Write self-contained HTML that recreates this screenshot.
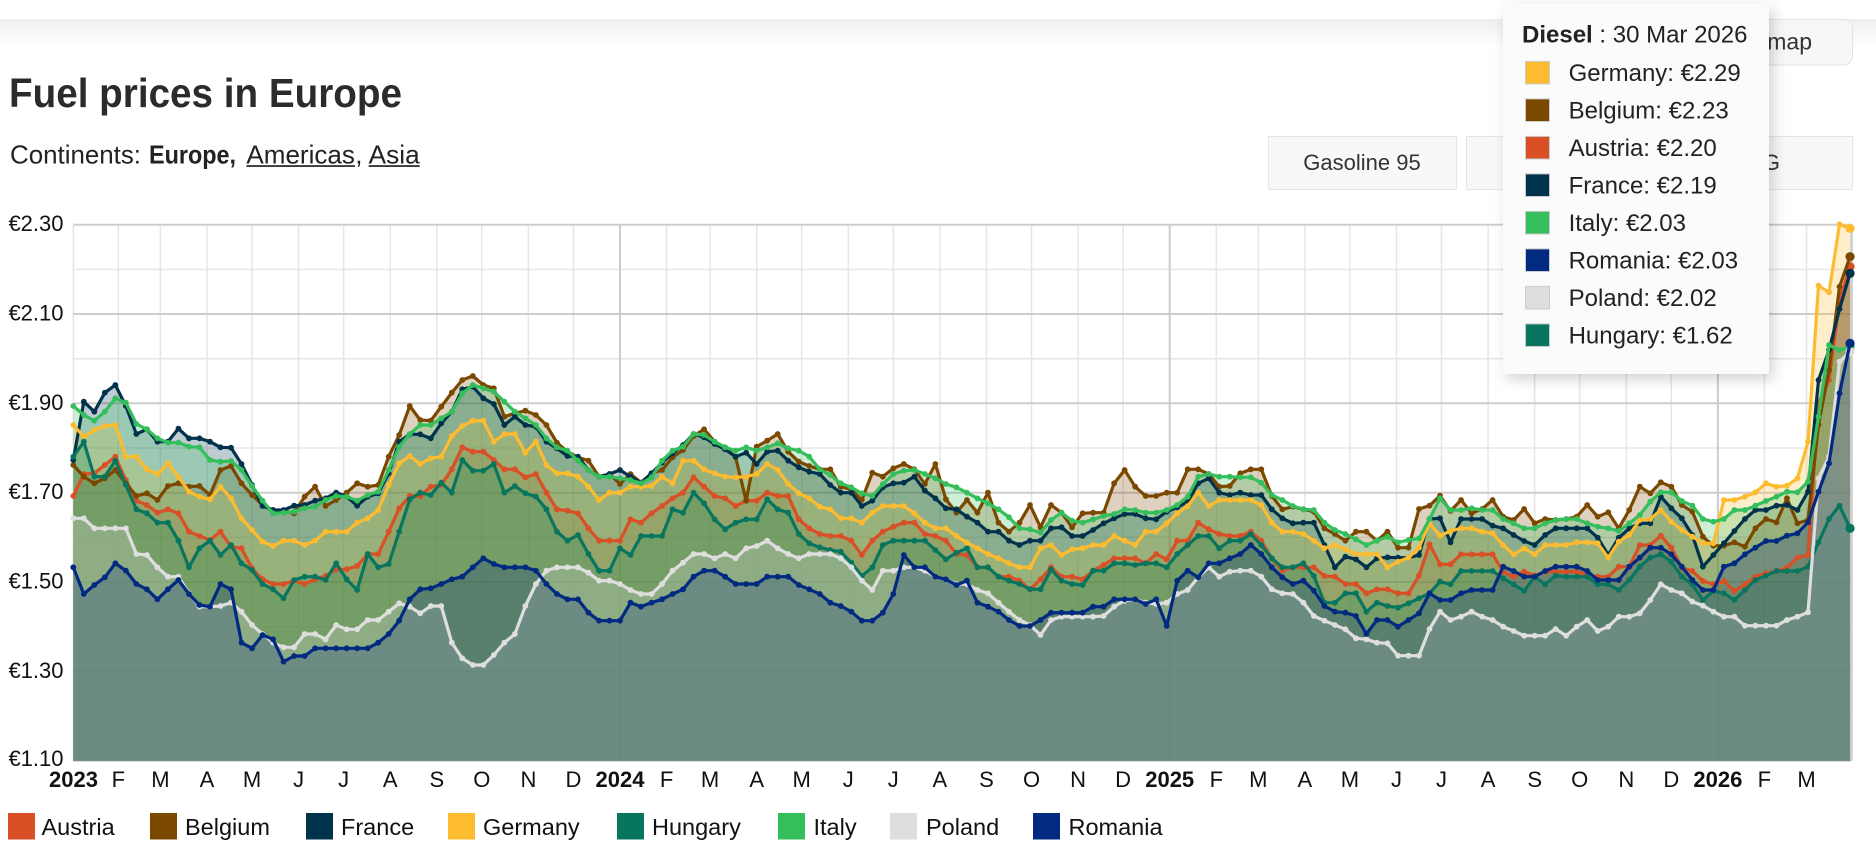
<!DOCTYPE html>
<html>
<head>
<meta charset="utf-8">
<style>
html,body{margin:0;padding:0;background:#fff;}
body{width:1876px;height:842px;overflow:hidden;}
svg{display:block;font-family:"Liberation Sans",Arial,sans-serif;}
</style>
</head>
<body>
<svg width="1876" height="842" viewBox="0 0 1876 842">
<defs>
<linearGradient id="band" x1="0" y1="0" x2="0" y2="1">
<stop offset="0" stop-color="#efefef"/>
<stop offset="1" stop-color="#ffffff"/>
</linearGradient>
<filter id="sh" x="-20%" y="-10%" width="150%" height="130%">
<feDropShadow dx="4" dy="5" stdDeviation="7" flood-color="#000" flood-opacity="0.18"/>
</filter>
</defs>

<rect x="0" y="19" width="1876" height="28" fill="url(#band)"/>

<!-- title -->
<text x="9" y="107" font-size="41" font-weight="bold" fill="#2b2b2b" textLength="393" lengthAdjust="spacingAndGlyphs">Fuel prices in Europe</text>
<text x="10" y="163.5" font-size="26" fill="#222" textLength="131" lengthAdjust="spacingAndGlyphs">Continents:</text>
<text x="149" y="163.5" font-size="26" font-weight="bold" fill="#222" textLength="87" lengthAdjust="spacingAndGlyphs">Europe,</text>
<text x="246.4" y="163.5" font-size="26" fill="#222" textLength="108.5" lengthAdjust="spacingAndGlyphs">Americas</text>
<text x="355.3" y="163.5" font-size="26" fill="#222">,</text>
<text x="368.7" y="163.5" font-size="26" fill="#222" textLength="51" lengthAdjust="spacingAndGlyphs">Asia</text>
<rect x="246.4" y="165.2" width="108.5" height="1.7" fill="#222"/>
<rect x="368.7" y="165.2" width="51" height="1.7" fill="#222"/>

<!-- buttons -->
<rect x="1640.5" y="19.5" width="212" height="45.5" rx="9" fill="#f7f7f7" stroke="#e3e3e3"/>
<text x="1812" y="49.5" font-size="23" fill="#333" text-anchor="end">map</text>
<rect x="1268.5" y="136.5" width="188" height="53" fill="#f8f8f8" stroke="#e5e5e5"/>
<text x="1362" y="170" font-size="22" fill="#333" text-anchor="middle">Gasoline 95</text>
<rect x="1466.5" y="136.5" width="188" height="53" fill="#f8f8f8" stroke="#e5e5e5"/>
<text x="1560" y="170" font-size="22" fill="#333" text-anchor="middle">Diesel</text>
<rect x="1664.5" y="136.5" width="188" height="53" fill="#f8f8f8" stroke="#e5e5e5"/>
<text x="1758" y="170" font-size="22" fill="#333" text-anchor="middle">LPG</text>

<!-- grid -->
<g stroke="#e6e6e6" stroke-width="1.5" fill="none">
<path d="M73.3,269.4H1851M73.3,358.7H1851M73.3,448H1851M73.3,537.4H1851M73.3,626.7H1851M73.3,716H1851"/>
<path d="M73.3,224.7V760.7M118.4,224.7V760.7M160.4,224.7V760.7M207,224.7V760.7M252,224.7V760.7M298.6,224.7V760.7M343.6,224.7V760.7M390.2,224.7V760.7M436.8,224.7V760.7M481.8,224.7V760.7M528.4,224.7V760.7M573.4,224.7V760.7M666.6,224.7V760.7M710.1,224.7V760.7M756.7,224.7V760.7M801.7,224.7V760.7M848.3,224.7V760.7M893.3,224.7V760.7M939.9,224.7V760.7M986.5,224.7V760.7M1031.5,224.7V760.7M1078.1,224.7V760.7M1123.1,224.7V760.7M1216.3,224.7V760.7M1258.3,224.7V760.7M1304.9,224.7V760.7M1349.9,224.7V760.7M1396.5,224.7V760.7M1441.5,224.7V760.7M1488.1,224.7V760.7M1534.7,224.7V760.7M1579.7,224.7V760.7M1626.3,224.7V760.7M1671.3,224.7V760.7M1764.4,224.7V760.7M1806.5,224.7V760.7"/>
</g>
<g stroke="#cdcdcd" stroke-width="2" fill="none">
<path d="M73.3,224.7H1851M73.3,314H1851M73.3,403.3H1851M73.3,492.7H1851M73.3,582H1851M73.3,671.4H1851M73.3,760.7H1851"/>
<path d="M620,224.7V760.7M1169.7,224.7V760.7M1717.9,224.7V760.7"/>
</g>
<line x1="1851.5" y1="224.7" x2="1851.5" y2="760.7" stroke="#cccccc" stroke-width="2.5"/>

<g id="fills"></g>
<g id="series"></g>

<!-- y axis labels -->
<g font-size="22" fill="#111" text-anchor="end">
<text x="63.5" y="231">€2.30</text>
<text x="63.5" y="320.5">€2.10</text>
<text x="63.5" y="409.8">€1.90</text>
<text x="63.5" y="499.2">€1.70</text>
<text x="63.5" y="588.5">€1.50</text>
<text x="63.5" y="677.9">€1.30</text>
<text x="63.5" y="766">€1.10</text>
</g>

<!-- x axis labels -->
<g font-size="22" fill="#111" text-anchor="middle">
<text x="73.5" y="787" font-weight="bold">2023</text>
<text x="118.4" y="787">F</text>
<text x="160.4" y="787">M</text>
<text x="207" y="787">A</text>
<text x="252" y="787">M</text>
<text x="298.6" y="787">J</text>
<text x="343.6" y="787">J</text>
<text x="390.2" y="787">A</text>
<text x="436.8" y="787">S</text>
<text x="481.8" y="787">O</text>
<text x="528.4" y="787">N</text>
<text x="573.4" y="787">D</text>
<text x="620" y="787" font-weight="bold">2024</text>
<text x="666.6" y="787">F</text>
<text x="710.1" y="787">M</text>
<text x="756.7" y="787">A</text>
<text x="801.7" y="787">M</text>
<text x="848.3" y="787">J</text>
<text x="893.3" y="787">J</text>
<text x="939.9" y="787">A</text>
<text x="986.5" y="787">S</text>
<text x="1031.5" y="787">O</text>
<text x="1078.1" y="787">N</text>
<text x="1123.1" y="787">D</text>
<text x="1169.7" y="787" font-weight="bold">2025</text>
<text x="1216.3" y="787">F</text>
<text x="1258.3" y="787">M</text>
<text x="1304.9" y="787">A</text>
<text x="1349.9" y="787">M</text>
<text x="1396.5" y="787">J</text>
<text x="1441.5" y="787">J</text>
<text x="1488.1" y="787">A</text>
<text x="1534.7" y="787">S</text>
<text x="1579.7" y="787">O</text>
<text x="1626.3" y="787">N</text>
<text x="1671.3" y="787">D</text>
<text x="1717.9" y="787" font-weight="bold">2026</text>
<text x="1764.4" y="787">F</text>
<text x="1806.5" y="787">M</text>
</g>

<!-- legend -->
<g font-size="23.5" fill="#111">
<rect x="8" y="813" width="27" height="26.5" fill="#d94f26"/><text x="41.5" y="835">Austria</text>
<rect x="150" y="813" width="27" height="26.5" fill="#7b4800"/><text x="185" y="835">Belgium</text>
<rect x="306" y="813" width="27" height="26.5" fill="#01324c"/><text x="341" y="835">France</text>
<rect x="448" y="813" width="27" height="26.5" fill="#fdbb30"/><text x="483" y="835">Germany</text>
<rect x="617" y="813" width="27" height="26.5" fill="#08765f"/><text x="652" y="835">Hungary</text>
<rect x="778" y="813" width="27" height="26.5" fill="#34bf5c"/><text x="813.5" y="835">Italy</text>
<rect x="890" y="813" width="27" height="26.5" fill="#dedede"/><text x="926" y="835">Poland</text>
<rect x="1033" y="813" width="27" height="26.5" fill="#022a80"/><text x="1068.5" y="835">Romania</text>
</g>

<!-- tooltip -->
<rect x="1503" y="4" width="266" height="370" rx="2" fill="#fbfbfb" filter="url(#sh)"/>
<text x="1522" y="42.7" font-size="24" fill="#222"><tspan font-weight="bold">Diesel</tspan> : 30 Mar 2026</text>
<g stroke="#cccccc" stroke-width="1">
<rect x="1525.5" y="61.4" width="24" height="22.6" fill="#fdbb30"/>
<rect x="1525.5" y="98.9" width="24" height="22.6" fill="#7b4800"/>
<rect x="1525.5" y="136.4" width="24" height="22.6" fill="#d94f26"/>
<rect x="1525.5" y="173.9" width="24" height="22.6" fill="#01324c"/>
<rect x="1525.5" y="211.4" width="24" height="22.6" fill="#34bf5c"/>
<rect x="1525.5" y="248.9" width="24" height="22.6" fill="#022a80"/>
<rect x="1525.5" y="286.4" width="24" height="22.6" fill="#dedede"/>
<rect x="1525.5" y="323.9" width="24" height="22.6" fill="#08765f"/>
</g>
<g font-size="24" fill="#222">
<text x="1568.6" y="81.2">Germany: €2.29</text>
<text x="1568.6" y="118.7">Belgium: €2.23</text>
<text x="1568.6" y="156.2">Austria: €2.20</text>
<text x="1568.6" y="193.7">France: €2.19</text>
<text x="1568.6" y="231.2">Italy: €2.03</text>
<text x="1568.6" y="268.7">Romania: €2.03</text>
<text x="1568.6" y="306.2">Poland: €2.02</text>
<text x="1568.6" y="343.7">Hungary: €1.62</text>
</g>
</svg>

<script>
(function(){
var S=[
['#d94f26',
[498,432,430,405,380,450,512,525,548,538,550,605,618,630,605,650,655,715,748,762,762,752,762,748,738,718,718,708,672,672,605,535,498,498,470,465,418,352,365,365,390,418,420,438],
[418,442,432,488,538,542,550,595,632,632,632,568,578,550,528,505,488,442,470,498,505,528,512,512,488,498,498,568,595,612,618,618,632,675,632,605,590,578,578,612,618,632,665,675],
[672,675,712,712,740,740,752,778,748,712,740,740,748,722,705,685,685,685,700,672,688,632,632,578,598,612,618,618,605,632,685,722,712,712,712,738,740,762,762,790,778,778,790,790],
[1135,1135,1082,988,1048,1048,1018,1018,1018,1018,1070,1085,1070,1082,1070,1070,1070,1070,1080,1085,1085,1055,1055,990,990,962,998,1058,1068,1098,1108,1098,1128,1108,1085,1075,1068,1058,1028,1020,565,495,255,155]],
['#7b4800',
[405,440,460,445,420,460,498,490,510,468,460,470,468,495,420,408,460,495,525,540,542,550,500,470,528,510,488,460,470,465,380,315,228,270,272,230,188,150,138,165,175,260,250,245],
[250,242,255,285,338,365,382,392,440,432,462,432,458,430,420,382,360,318,298,335,352,382,512,350,332,312,365,395,408,418,418,470,478,510,428,440,415,402,418,462,402,508,550,510],
[548,510,548,488,578,605,578,525,592,525,548,592,550,548,548,460,420,470,498,498,488,488,418,418,432,470,468,430,418,418,498,538,530,538,545,595,612,632,605,605,632,605,655,650],
[998,998,882,872,842,888,855,895,882,855,905,915,882,925,912,915,912,905,870,905,892,940,885,815,835,802,815,870,890,965,992,992,982,995,940,912,922,850,925,915,630,465,215,125]],
['#01324c',
[390,215,245,188,165,228,312,298,335,335,296,325,325,335,352,353,402,465,528,540,540,527,525,512,505,488,500,527,500,490,430,335,313,313,325,280,245,178,170,205,222,285,255,285],
[260,285,290,335,355,378,380,420,440,432,420,440,458,430,398,370,345,312,322,342,358,380,368,402,365,362,392,412,425,432,465,488,488,528,512,472,460,458,440,482,505,535,538,562],
[538,560,578,605,605,632,645,632,632,595,592,618,618,600,580,565,552,552,565,568,545,532,515,460,445,488,495,488,495,495,538,565,580,578,578,645,712,680,688,712,685,682,685,685],
[1028,1028,1020,912,910,982,912,912,912,932,940,960,978,990,960,940,940,940,940,968,1020,968,940,925,925,845,880,910,960,1055,1020,985,948,912,885,885,872,870,885,830,495,405,282,175]],
['#fdbb30',
[285,320,300,288,285,380,380,418,432,400,440,485,500,508,470,505,565,600,635,648,632,632,645,632,605,605,605,578,565,540,465,400,378,402,385,380,318,288,272,272,335,312,315,362],
[312,368,335,405,430,430,440,470,510,488,488,470,470,468,440,460,392,392,418,430,440,442,440,432,402,420,462,490,505,530,538,565,565,578,548,528,528,528,550,578,595,595,612,635],
[618,638,655,672,685,700,712,712,655,645,675,658,655,645,645,618,632,645,605,605,580,550,528,488,528,510,510,510,510,525,578,605,605,612,632,655,645,658,672,672,672,712,700,685],
[1040,1028,998,925,962,948,940,940,950,955,990,1018,1000,1018,990,990,990,982,982,985,1028,980,960,915,912,885,920,945,965,985,985,855,855,845,832,805,815,812,790,680,212,232,28,40]],
['#08765f',
[380,335,440,440,392,465,538,550,578,578,632,712,655,632,675,645,700,720,762,778,805,750,740,740,750,700,748,780,672,712,702,605,508,488,495,458,488,390,422,422,402,488,468,488],
[468,490,500,538,605,632,615,672,722,722,655,675,618,618,618,538,548,488,520,568,598,578,568,568,508,538,548,612,640,652,660,665,698,738,712,645,632,632,632,632,660,688,672,652],
[668,655,712,712,740,752,762,778,778,718,752,762,765,722,722,700,700,705,700,700,712,672,645,618,618,655,632,632,612,645,685,712,712,700,738,818,818,790,790,845,818,828,828,818],
[1178,1165,1150,1135,1100,1108,1068,1068,1068,1068,1090,1108,1128,1085,1108,1082,1085,1085,1085,1108,1108,1125,1095,1055,1028,1018,1040,1085,1108,1155,1128,1135,1155,1125,1095,1082,1068,1068,1068,1055,982,912,872,940]],
['#34bf5c',
[228,255,272,245,205,218,282,298,325,338,338,350,352,390,395,393,420,468,512,550,548,545,535,530,510,498,500,512,495,485,420,350,312,285,285,265,245,190,165,175,185,215,238,260],
[245,265,285,325,352,362,392,420,440,440,445,450,460,442,392,362,350,312,315,335,352,362,352,362,352,340,355,362,380,418,435,460,472,490,498,462,432,422,420,432,445,462,472,488],
[472,488,505,520,538,562,595,598,608,570,548,572,578,568,558,552,538,540,548,548,540,525,500,440,432,440,440,442,442,458,495,510,528,538,540,578,600,612,628,645,632,620,632,632],
[982,975,970,912,850,885,885,880,885,885,912,925,940,940,925,915,912,912,925,935,940,948,925,900,860,832,832,858,872,912,920,912,885,885,872,858,845,830,832,800,605,390,405,395]],
['#dedede',
[565,565,595,595,595,595,672,675,712,740,740,790,830,830,828,818,845,885,912,938,952,952,912,912,928,885,898,898,870,870,845,820,830,850,828,828,938,985,1005,1005,975,938,912,828],
[912,828,762,722,712,712,712,728,752,752,762,780,792,792,762,722,698,672,672,685,672,685,655,648,632,655,672,685,672,672,672,685,712,752,780,722,722,712,712,722,740,748,752,752],
[762,762,780,790,818,845,870,885,915,870,860,860,860,860,858,830,812,808,818,822,818,792,780,742,712,740,725,722,722,740,778,790,792,818,858,872,885,898,925,928,938,940,972,978],
[1322,1322,1322,1242,1190,1215,1205,1190,1205,1215,1235,1248,1262,1262,1262,1242,1262,1235,1215,1248,1235,1205,1205,1195,1155,1108,1125,1135,1160,1172,1190,1205,1205,1232,1232,1232,1232,1215,1205,1192,790,725,440,410]],
['#022a80',
[712,792,765,742,700,722,762,778,808,778,750,792,825,830,762,778,938,955,915,928,995,978,978,955,955,955,955,955,955,938,912,872,808,778,775,762,748,740,712,685,702,712,712,712],
[712,712,722,762,792,808,808,848,872,872,872,818,830,818,808,792,778,740,722,722,740,762,762,762,740,740,740,765,778,792,818,828,845,872,872,848,792,675,712,712,740,748,762,748],
[765,752,818,830,845,870,888,888,870,848,848,848,848,830,830,808,808,808,822,808,888,752,722,742,700,700,685,672,645,672,712,742,762,752,782,828,845,848,858,912,870,870,885,870],
[1235,1215,1195,1135,1155,1155,1135,1125,1125,1125,1055,1068,1085,1085,1068,1055,1055,1055,1068,1095,1095,1095,1055,1028,998,998,1018,1055,1095,1125,1125,1055,1045,1018,998,978,978,962,955,922,830,745,535,385]]
];
var X0=73.3,DX=10.5133,BOT=760.7,hf='',hl='';
S.forEach(function(s){
  var c=s[0],ys=[],i;
  for(i=0;i<42;i++)ys.push(330+s[1][i]/3);
  for(i=0;i<42;i++)ys.push(330+s[2][i]/3);
  for(i=0;i<42;i++)ys.push(330+s[3][i]/3);
  for(i=0;i<44;i++)ys.push(215+s[4][i]/3);
  var pts=ys.map(function(y,k){return (X0+k*DX).toFixed(2)+','+y.toFixed(2);});
  var xN=(X0+(ys.length-1)*DX).toFixed(2);
  hf+='<path d="M'+X0+','+BOT+'L'+pts.join('L')+'L'+xN+','+BOT+'Z" fill="'+c+'" fill-opacity="0.25"/>';
  hl+='<polyline points="'+pts.join(' ')+'" fill="none" stroke="'+c+'" stroke-width="3.2" stroke-linejoin="round" stroke-linecap="round"/>';
  ys.forEach(function(y,k){
    var r=(k===ys.length-1)?4.6:2.9;
    hl+='<circle cx="'+(X0+k*DX).toFixed(2)+'" cy="'+y.toFixed(2)+'" r="'+r+'" fill="'+c+'"/>';
  });
});
document.getElementById('fills').innerHTML=hf;
document.getElementById('series').innerHTML=hl;
})();
</script>
</body>
</html>
